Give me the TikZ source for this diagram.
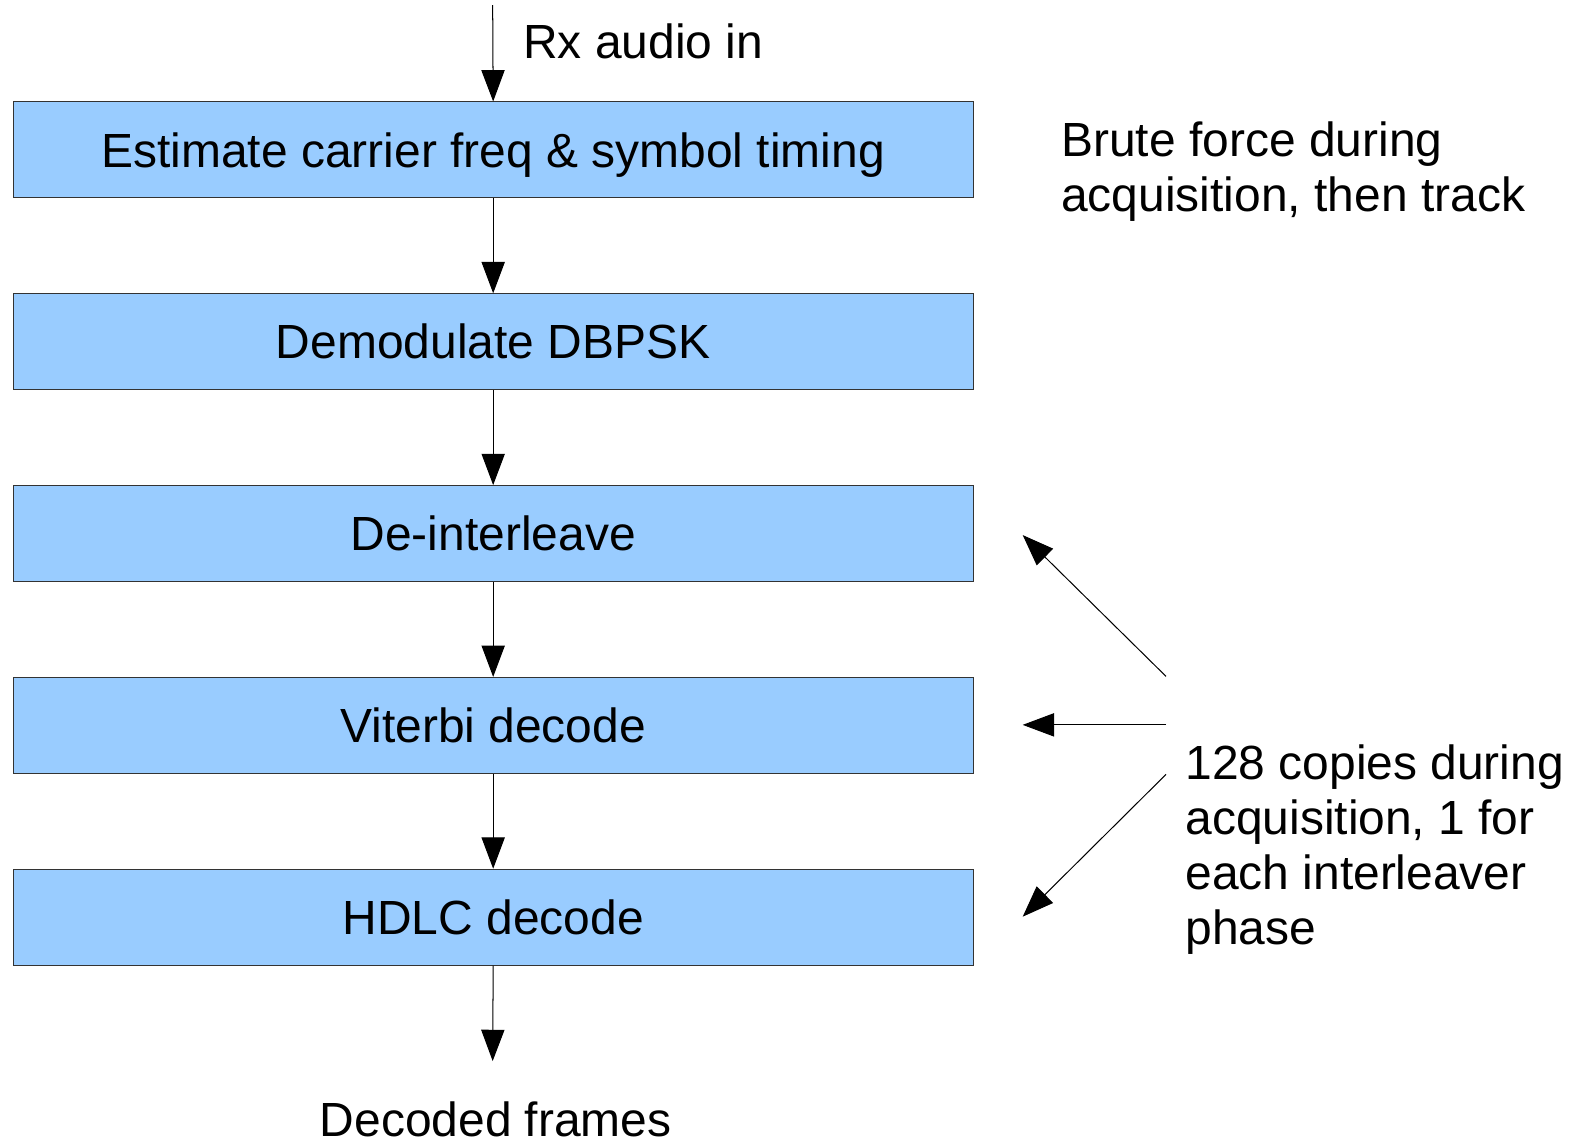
\documentclass[tikz,border=0pt]{standalone}
\usepackage{fontspec}
\setmainfont{Liberation Sans}
\usetikzlibrary{arrows.meta}
\definecolor{boxblue}{HTML}{99CCFF}
\definecolor{boxline}{HTML}{333333}
\begin{document}
\begin{tikzpicture}[x=1pt,y=-1pt,
  blk/.style={draw=boxline,line width=1pt,fill=boxblue,minimum width=951pt,minimum height=95pt,
    inner sep=0pt,text height=34pt,text depth=0pt,font=\fontsize{47.5}{54.5}\selectfont},
  lbl/.style={inner sep=0pt,anchor=base west,align=left,font=\fontsize{47.5}{54.5}\selectfont},
  arr/.style={line width=1pt,-{Triangle[length=31pt,width=23pt]}}]
\useasboundingbox (0,0) rectangle (1568,1129);
\node[blk] (b1) at (488.5,148.5) {Estimate carrier freq \& symbol timing};
\node[blk] (b2) at (488.5,338.5) {Demodulate DBPSK};
\node[blk] (b3) at (488.5,528.5) {De-interleave};
\node[blk] (b4) at (488.5,718.5) {Viterbi decode};
\node[blk] (b5) at (488.5,908.5) {HDLC decode};
\coordinate (in) at (488,5);
\coordinate (out) at (488,1051);
\node[lbl] (rx) at (518,58) {Rx audio in};
\node[lbl,anchor=base] (dec) at (491,1126) {Decoded frames};
\node[lbl] (brute) at (1051,209.5) {Brute force during\\acquisition, then track};
\node[lbl] (copies) at (1174,935.5) {128 copies during\\acquisition, 1 for\\each interleaver\\phase};
\coordinate (s1) at (1155,670);
\coordinate (t1) at (1013,530);
\coordinate (s2) at (1155,718);
\coordinate (t2) at (1013,718);
\coordinate (s3) at (1155,767);
\coordinate (t3) at (1013,908);
\draw[arr] (in) -- (b1.north);
\draw[arr] (b1.south) -- (b2.north);
\draw[arr] (b2.south) -- (b3.north);
\draw[arr] (b3.south) -- (b4.north);
\draw[arr] (b4.south) -- (b5.north);
\draw[arr] (b5.south) -- (out);
\draw[arr] (s1) -- (t1);
\draw[arr] (s2) -- (t2);
\draw[arr] (s3) -- (t3);
\end{tikzpicture}
\end{document}
